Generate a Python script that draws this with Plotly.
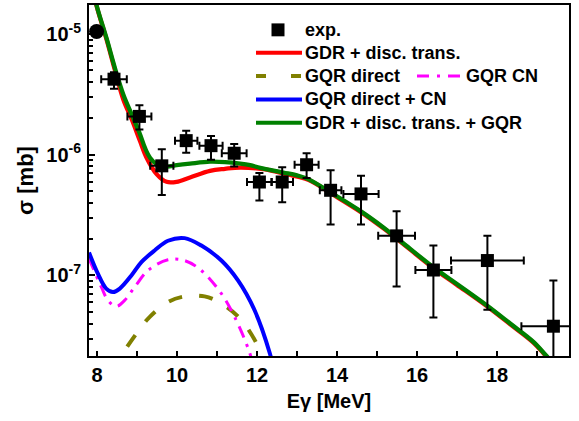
import plotly.graph_objects as go

# ---- experimental cross sections ----
e_exp = [7.99, 8.425, 9.06, 9.62, 10.23, 10.85, 11.43, 12.06, 12.63, 13.24,
         13.84, 14.60, 15.49, 16.41, 17.76, 19.41]
sig_exp = [1.05e-5, 4.23e-6, 2.08e-6, 8.1e-7, 1.31e-6, 1.19e-6, 1.03e-6, 5.95e-7,
           5.95e-7, 8.27e-7, 5.08e-7, 4.74e-7, 2.13e-7, 1.11e-7, 1.33e-7, 3.8e-8]
sig_hi = [1.05e-5, 4.83e-6, 2.57e-6, 1.11e-6, 1.58e-6, 1.43e-6, 1.23e-6, 7.06e-7,
          7.9e-7, 1.03e-6, 7.43e-7, 6.7e-7, 3.41e-7, 1.77e-7, 2.13e-7, 9.1e-8]
sig_lo = [1.05e-5, 3.53e-6, 1.62e-6, 4.65e-7, 1.04e-6, 9.1e-7, 8.0e-7, 4.18e-7,
          4.05e-7, 6.42e-7, 2.65e-7, 2.65e-7, 8.1e-8, 4.49e-8, 5.2e-8, 1.0e-8]
e_err = [0.0, 0.32, 0.30, 0.29, 0.28, 0.29, 0.31, 0.31, 0.27, 0.30,
         0.27, 0.44, 0.46, 0.45, 0.91, 0.80]

# ---- GDR + discrete transitions ----
e_gdr = [7.80, 7.99, 8.24, 8.45, 8.66, 8.87, 9.075, 9.24, 9.49, 9.74, 9.99,
         10.325, 10.825, 11.20, 11.58, 12.16, 12.74, 13.28, 13.91, 14.58,
         15.16, 15.58, 16.41, 16.99, 17.74, 18.33, 18.91, 19.24, 19.60]
sig_gdr = [3.2e-5, 1.71e-5, 9.0e-6, 5.0e-6, 2.86e-6, 1.96e-6, 1.3e-6, 9.46e-7,
           6.92e-7, 5.97e-7, 5.97e-7, 6.49e-7, 7.36e-7, 7.65e-7, 7.84e-7,
           7.6e-7, 6.9e-7, 6.2e-7, 4.65e-7, 3.38e-7, 2.46e-7, 1.91e-7,
           1.15e-7, 8.4e-8, 5.58e-8, 3.94e-8, 2.78e-8, 2.12e-8, 1.58e-8]

# ---- GQR direct ----
e_gqr_dir = [8.45, 8.61, 9.11, 9.32, 9.775, 10.19, 10.69, 11.11, 11.61, 12.11, 12.25]
sig_gqr_dir = [1.5e-8, 2.13e-8, 3.75e-8, 4.54e-8, 6.03e-8, 6.71e-8, 6.71e-8,
               5.85e-8, 4.27e-8, 2.27e-8, 1.6e-8]

# ---- GQR compound nucleus ----
e_gqr_cn = [7.80, 8.11, 8.275, 8.48, 8.69, 8.94, 9.275, 9.775, 10.19, 10.61,
            11.11, 11.44, 11.82, 11.95]
sig_gqr_cn = [1.38e-7, 8.0e-8, 6.22e-8, 5.55e-8, 6.22e-8, 8.0e-8, 1.1e-7,
              1.35e-7, 1.33e-7, 1.1e-7, 7.07e-8, 4.54e-8, 2.27e-8, 1.5e-8]

# ---- GQR direct + CN ----
e_gqr_sum = [7.80, 8.025, 8.23, 8.40, 8.57, 8.86, 9.11, 9.44, 9.775, 10.19,
             10.61, 11.11, 11.525, 11.94, 12.32, 12.45]
sig_gqr_sum = [1.55e-7, 1.03e-7, 7.79e-8, 7.29e-8, 7.79e-8, 1.0e-7, 1.29e-7,
               1.61e-7, 1.94e-7, 2.04e-7, 1.77e-7, 1.33e-7, 9.1e-8, 5.15e-8,
               2.27e-8, 1.5e-8]

# ---- GDR + discrete transitions + GQR ----
e_tot = [7.80, 7.99, 8.24, 8.45, 8.66, 8.87, 9.075, 9.20, 9.325, 9.49, 9.74,
         9.99, 10.325, 10.825, 11.20, 11.58, 11.83, 12.08, 12.66, 13.00, 13.28,
         13.91, 14.58, 15.16, 15.58, 16.41, 16.99, 17.74, 18.33, 18.91, 19.24, 19.60]
sig_tot = [3.3e-5, 1.73e-5, 9.2e-6, 5.21e-6, 3.15e-6, 2.15e-6, 1.48e-6, 1.14e-6,
           9.46e-7, 8.35e-7, 7.98e-7, 8.2e-7, 8.45e-7, 8.77e-7, 8.7e-7, 8.45e-7,
           8.2e-7, 7.8e-7, 7.13e-7, 6.75e-7, 6.29e-7, 4.72e-7, 3.43e-7, 2.5e-7,
           1.94e-7, 1.17e-7, 8.55e-8, 5.67e-8, 4.0e-8, 2.82e-8, 2.15e-8, 1.6e-8]

x_ticks = [8, 10, 12, 14, 16, 18]
y_ticks = [1e-7, 1e-6, 1e-5]
y_ticktext = ["10<sup>-7</sup>", "10<sup>-6</sup>", "10<sup>-5</sup>"]

FONT = "Liberation Sans, Arial, sans-serif"
RED, OLIVE, MAGENTA, BLUE, GREEN = "#ff0000", "#808000", "#ff00ff", "#0000ff", "#008000"

fig = go.Figure()

fig.add_trace(go.Scatter(x=e_gqr_dir, y=sig_gqr_dir, mode="lines", line_shape="spline",
                         line=dict(color=OLIVE, width=4, dash="14px,17px")))
fig.add_trace(go.Scatter(x=e_gqr_cn, y=sig_gqr_cn, mode="lines", line_shape="spline",
                         line=dict(color=MAGENTA, width=3, dash="12px,7px,3px,7px")))
fig.add_trace(go.Scatter(x=e_gqr_sum, y=sig_gqr_sum, mode="lines", line_shape="spline",
                         line=dict(color=BLUE, width=4)))
fig.add_trace(go.Scatter(x=e_gdr, y=sig_gdr, mode="lines", line_shape="spline",
                         line=dict(color=RED, width=4.3)))
fig.add_trace(go.Scatter(x=e_tot, y=sig_tot, mode="lines", line_shape="spline",
                         line=dict(color=GREEN, width=4.3)))

err_plus = [h - v for h, v in zip(sig_hi, sig_exp)]
err_minus = [v - l for v, l in zip(sig_exp, sig_lo)]
symbols = ["circle"] + ["square"] * (len(e_exp) - 1)
sizes = [15] + [13] * (len(e_exp) - 1)
fig.add_trace(go.Scatter(
    x=e_exp, y=sig_exp, mode="markers",
    marker=dict(symbol=symbols, size=sizes, color="black", opacity=1,
                line=dict(width=0)),
    error_y=dict(type="data", array=err_plus, arrayminus=err_minus, symmetric=False,
                 color="black", thickness=2, width=4),
    error_x=dict(type="data", array=e_err, color="black", thickness=2, width=4),
))

# ---- legend drawn in pixel units of the figure ----
W_FIG, H_FIG = 579, 421
M_L, M_R, M_T, M_B = 89, 10, 3, 65
PW, PH = W_FIG - M_L - M_R, H_FIG - M_T - M_B


def px(xp):
    return (xp - M_L) / PW


def py(yp):
    return 1 - (yp - M_T) / PH


legend_font = dict(family=FONT, size=18, color="black", weight="bold")
legend_rows = [
    ("exp.", None, 28),
    ("GDR + disc. trans.", dict(color=RED, width=4), 51),
    ("GQR direct", dict(color=OLIVE, width=4, dash="10px,25px"), 74.5),
    ("GQR direct + CN", dict(color=BLUE, width=4), 98),
    ("GDR + disc. trans. + GQR", dict(color=GREEN, width=4), 121.5),
]
shapes = []
annotations = []
for label, style, yrow in legend_rows:
    if style is None:
        shapes.append(dict(type="rect", xref="paper", yref="paper",
                           x0=px(271.5), x1=px(284.5), y0=py(34.5), y1=py(21.5),
                           fillcolor="black", line=dict(width=0)))
    else:
        shapes.append(dict(type="line", xref="paper", yref="paper",
                           x0=px(256), x1=px(302), y0=py(yrow), y1=py(yrow), line=style))
    annotations.append(dict(text=label, xref="paper", yref="paper", x=px(303), y=py(yrow),
                            xanchor="left", yanchor="middle", showarrow=False,
                            font=legend_font))
shapes.append(dict(type="line", xref="paper", yref="paper", x0=px(417), x1=px(462),
                   y0=py(74.5), y1=py(74.5),
                   line=dict(color=MAGENTA, width=3, dash="12px,8px,3px,8px")))
annotations.append(dict(text="GQR CN", xref="paper", yref="paper", x=px(464), y=py(74.5),
                        xanchor="left", yanchor="middle", showarrow=False,
                        font=legend_font))

axis_font = dict(family=FONT, size=20, color="black", weight="bold")
fig.update_layout(
    width=W_FIG, height=H_FIG,
    margin=dict(l=M_L, r=M_R, t=M_T, b=M_B),
    paper_bgcolor="white", plot_bgcolor="white",
    showlegend=False,
    shapes=shapes, annotations=annotations,
    xaxis=dict(range=[7.8, 19.8], tickvals=x_ticks, ticks="inside", ticklen=5,
               tickwidth=1.5, tickcolor="black", showline=True, linewidth=2,
               linecolor="black", mirror=True, showgrid=False, zeroline=False,
               tickfont=axis_font, ticklabelstandoff=0,
               minor=dict(dtick=1, tick0=8, ticks="inside", ticklen=5, tickwidth=1.5,
                          tickcolor="black", showgrid=False),
               title=dict(text="Eγ [MeV]", font=dict(family=FONT, size=20, color="black",
                                                      weight="bold"), standoff=9)),
    yaxis=dict(type="log", range=[-7.667, -4.759], tickvals=y_ticks, ticktext=y_ticktext,
               ticks="inside", ticklen=6, tickwidth=1.5, tickcolor="black",
               showline=True, linewidth=2, linecolor="black", mirror=True,
               showgrid=False, zeroline=False, tickfont=axis_font, ticklabelstandoff=2,
               minor=dict(dtick="D1", ticks="inside", ticklen=4, tickwidth=1.5,
                          tickcolor="black", showgrid=False),
               title=dict(text="σ [mb]", font=dict(family=FONT, size=22, color="black",
                                                   weight="bold"), standoff=7)),
)

fig.write_html("out.html")
